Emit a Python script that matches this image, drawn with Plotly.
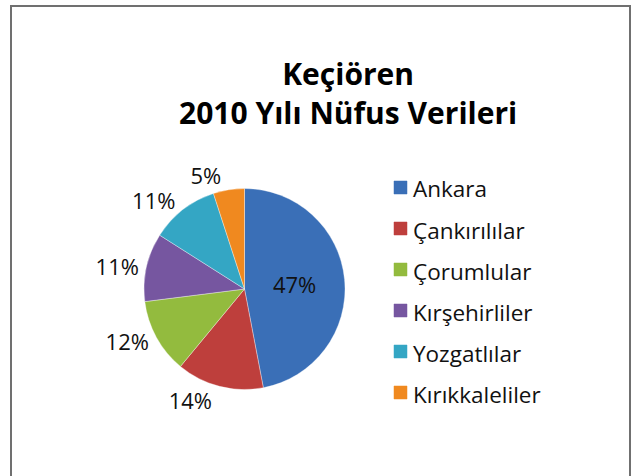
import plotly.graph_objects as go

labels = ["Ankara", "Çankırılılar", "Çorumlular", "Kırşehirliler", "Yozgatlılar", "Kırıkkaleliler"]
values = [47, 14, 12, 11, 11, 5]
colors = ["#3A6FB7", "#BE3F3C", "#93BB3E", "#7656A0", "#34A6C4", "#F0891F"]
# main trace shows all labels but the small top one; overlay trace shows only that one
text_pos_main = ["inside", "outside", "outside", "outside", "outside", "none"]
text_pos_top = ["none", "none", "none", "none", "none", "outside"]
title_lines = ["Keçiören", "2010 Yılı Nüfus Verileri"]

W, H = 638, 476
FONT = "Open Sans"
domain = dict(x=[144 / W, 345 / W], y=[1 - 390 / H, 1 - 188 / H])

fig = go.Figure()
fig.add_trace(go.Pie(
    labels=labels, values=values, sort=False, direction="clockwise", rotation=0,
    marker=dict(colors=colors, line=dict(color="rgba(255,255,255,0.35)", width=1)),
    textinfo="percent", texttemplate="%{percent:.0%}", textposition=text_pos_main,
    textfont=dict(family=FONT, size=22, color="#111111"),
    insidetextorientation="horizontal", domain=domain,
    showlegend=False, hoverinfo="label+percent",
))
fig.add_trace(go.Pie(
    labels=labels, values=values, sort=False, direction="clockwise", rotation=0,
    marker=dict(colors=["rgba(0,0,0,0)"] * len(labels), line=dict(width=0)),
    textinfo="percent", texttemplate="%{percent:.0%}", textposition=text_pos_top,
    textfont=dict(family=FONT, size=22, color="#111111"),
    domain=domain, showlegend=False, hoverinfo="skip",
))

shapes = [dict(type="rect", xref="paper", yref="paper",
               x0=11 / W, x1=630 / W, y0=-0.05, y1=1 - 6 / H,
               line=dict(color="#707070", width=2), fillcolor="rgba(0,0,0,0)")]
annotations = [dict(text="<br>".join(title_lines), xref="paper", yref="paper",
                    x=348 / W, y=1 - 93 / H, xanchor="center", yanchor="middle",
                    showarrow=False, align="center",
                    font=dict(family=FONT, size=30, color="#000000", weight="bold"))]

# legend
leg_x, leg_y0, leg_dy = 394, 188, 41
for i, (lab, col) in enumerate(zip(labels, colors)):
    cy = leg_y0 + i * leg_dy
    shapes.append(dict(type="rect", xref="paper", yref="paper",
                       x0=leg_x / W, x1=(leg_x + 13) / W,
                       y0=1 - (cy + 6) / H, y1=1 - (cy - 7) / H,
                       fillcolor=col, line=dict(color=col, width=0.5)))
    annotations.append(dict(text=lab, xref="paper", yref="paper",
                            x=(leg_x + 17) / W, y=1 - (cy + 1) / H,
                            xanchor="left", yanchor="middle", showarrow=False,
                            font=dict(family=FONT, size=22.5, color="#111111")))

fig.update_layout(width=W, height=H, margin=dict(l=0, r=0, t=0, b=0),
                  paper_bgcolor="white", plot_bgcolor="white",
                  shapes=shapes, annotations=annotations)
fig.write_html("out.html", config={"displayModeBar": False},
               post_script="document.body.style.margin='0px';")
